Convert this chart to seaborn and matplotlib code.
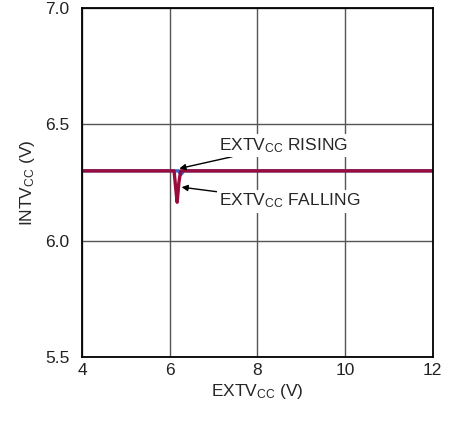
import matplotlib
matplotlib.use('Agg')
import matplotlib.pyplot as plt
import seaborn as sns
from matplotlib import font_manager

# ---- data ----
rising_x = [4.0, 6.15, 6.2, 6.26, 6.32, 12.0]
rising_y = [6.30, 6.30, 6.30, 6.285, 6.30, 6.30]
falling_x = [4.0, 6.10, 6.14, 6.17, 6.21, 6.25, 12.0]
falling_y = [6.30, 6.30, 6.22, 6.165, 6.25, 6.30, 6.30]
x_ticks = [4, 6, 8, 10, 12]
y_ticks = [5.5, 6.0, 6.5, 7.0]

sns.set_style('white')
names = {f.name for f in font_manager.fontManager.ttflist}
fam = 'Liberation Sans Narrow' if 'Liberation Sans Narrow' in names else 'Liberation Sans'
plt.rcParams['font.family'] = [fam, 'DejaVu Sans']
plt.rcParams['mathtext.fontset'] = 'custom'
plt.rcParams['mathtext.rm'] = fam

fs = 12.5
fig, ax = plt.subplots(figsize=(4.58, 4.21), dpi=100)
fig.subplots_adjust(left=0.179, right=0.945, top=0.981, bottom=0.152)

sns.lineplot(x=rising_x, y=rising_y, ax=ax, color='#3a6bc4', linewidth=2.4,
             sort=False, estimator=None)
sns.lineplot(x=falling_x, y=falling_y, ax=ax, color='#9b0a3c', linewidth=2.4,
             sort=False, estimator=None)

ax.set_xlim(4, 12)
ax.set_ylim(5.5, 7.0)
ax.set_xticks(x_ticks)
ax.set_xticklabels([str(t) for t in x_ticks])
ax.set_yticks(y_ticks)
ax.set_yticklabels([f'{t:.1f}' for t in y_ticks])
ax.tick_params(axis='both', length=0, labelsize=fs, colors='#222222')
ax.tick_params(axis='x', pad=4)
ax.tick_params(axis='y', pad=9)
ax.grid(True, color='#555555', linewidth=1.0)
ax.set_axisbelow(True)
for s in ax.spines.values():
    s.set_color('black')
    s.set_linewidth(1.3)

ax.set_xlabel(r'$\mathregular{EXTV_{CC}}$ (V)', fontsize=fs, labelpad=3)
ax.set_ylabel(r'$\mathregular{INTV_{CC}}$ (V)', fontsize=fs, labelpad=6)

box = dict(facecolor='white', edgecolor='none', pad=1.5)
ax.annotate(r'$\mathregular{EXTV_{CC}}$ RISING', xy=(6.22, 6.31), xytext=(7.12, 6.41),
            fontsize=fs, va='center', ha='left', bbox=box,
            arrowprops=dict(arrowstyle='-|>', color='black', lw=1.0,
                            shrinkA=0, shrinkB=0, mutation_scale=9))
ax.annotate(r'$\mathregular{EXTV_{CC}}$ FALLING', xy=(6.27, 6.23), xytext=(7.12, 6.17),
            fontsize=fs, va='center', ha='left', bbox=box,
            arrowprops=dict(arrowstyle='-|>', color='black', lw=1.0,
                            shrinkA=0, shrinkB=0, mutation_scale=9))

fig.savefig('out.png', dpi=100)
